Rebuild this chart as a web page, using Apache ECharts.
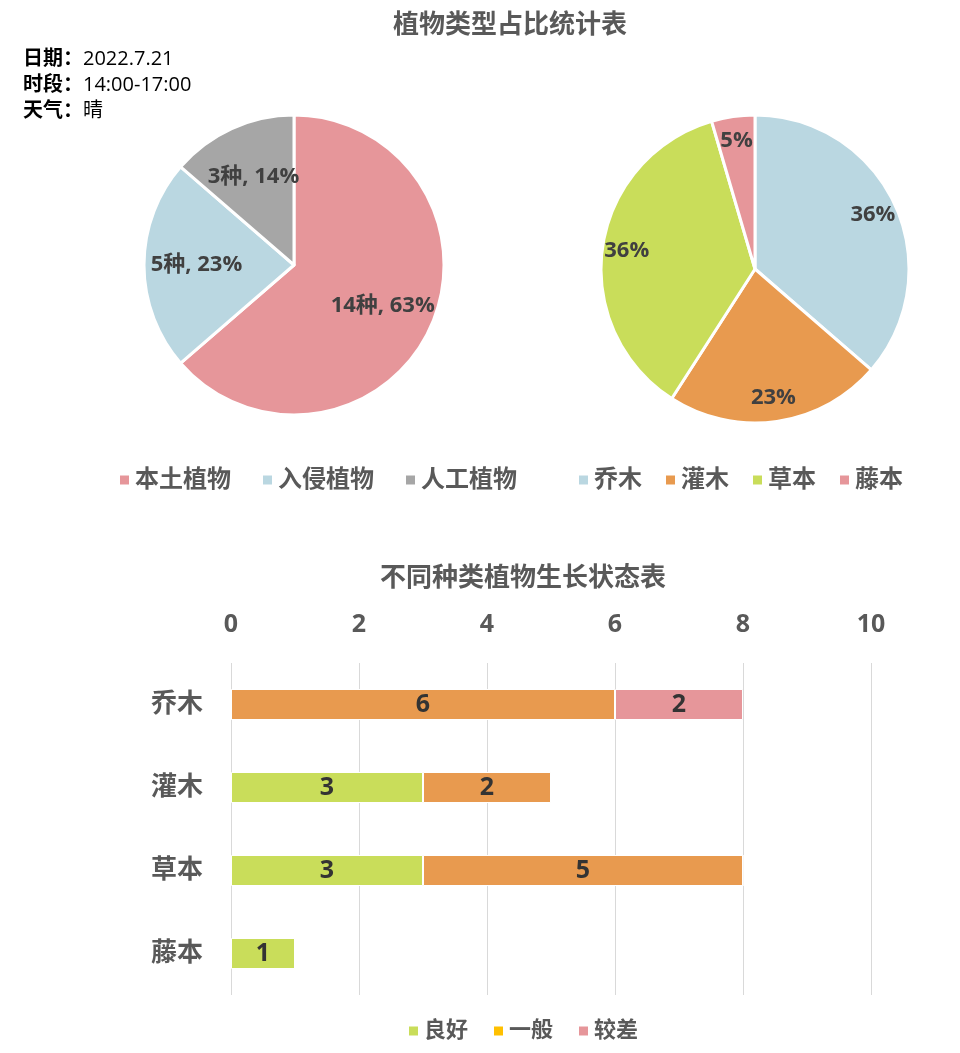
<!DOCTYPE html>
<html>
<head>
<meta charset="utf-8">
<script src="https://cdn.jsdelivr.net/npm/echarts@6/dist/echarts.min.js"></script>
<style>
  html, body { margin: 0; padding: 0; background: #fff; }
  #main { width: 960px; height: 1053px; }
</style>
</head>
<body>
<div id="main"></div>
<script>
// 植物类型（种数）
var typeNames = ['本土植物', '入侵植物', '人工植物'];
var typeCounts = [14, 5, 3];
var typePct = [63, 23, 14];

// 植物形态
var formNames = ['乔木', '灌木', '草本', '藤本'];
var formCounts = [8, 5, 8, 1];
var formPct = [36, 23, 36, 5];

// 生长状态
var statusNames = ['良好', '一般', '较差'];
var goodVals = [0, 3, 3, 1];
var normalVals = [6, 2, 5, 0];
var badVals = [2, 0, 0, 0];
var xTicks = [0, 2, 4, 6, 8, 10];

var FONT = "'Open Sans','Noto Sans CJK SC',sans-serif";
var PINK = '#E6969A', BLUE = '#BAD7E1', GRAY = '#A6A6A6',
    ORANGE = '#E89A4F', GREEN = '#C9DD5A', YELLOW = '#FFC000';

var chart = echarts.init(document.getElementById('main'));

// 把饼图内部标签往外推一点
function pushOut(cx, cy, k){
    return function(p){
        var r = p.labelRect;
        var lx = r.x + r.width / 2, ly = r.y + r.height / 2;
        return { dx: (lx - cx) * (k - 1), dy: (ly - cy) * (k - 1) };
    };
}

var pieLabel = {
    show: true, position: 'inside', color: '#404040',
    fontSize: 22, fontWeight: 'bold', fontFamily: FONT
};

chart.setOption({
    backgroundColor: '#fff',
    textStyle: { fontFamily: FONT },
    title: [{
        text: '植物类型占比统计表', left: 388, top: 8,
        textStyle: { fontSize: 26, fontWeight: 'bold', color: '#595959', fontFamily: FONT }
    }, {
        text: '不同种类植物生长状态表', left: 375, top: 561,
        textStyle: { fontSize: 26, fontWeight: 'bold', color: '#595959', fontFamily: FONT }
    }],
    graphic: [{
        type: 'text', left: 23, top: 49,
        style: {
            text: '{b|日期：}{n|2022.7.21}\n{b|时段：}{n|14:00-17:00}\n{b|天气：}{n|晴}',
            rich: {
                b: { fontSize: 20, fontWeight: 'bold', color: '#404040', fontFamily: FONT, lineHeight: 26 },
                n: { fontSize: 20, color: '#404040', fontFamily: FONT, lineHeight: 26 }
            }
        }
    }],
    legend: [{
        data: typeNames, left: 113, top: 463,
        itemWidth: 11, itemHeight: 11, itemGap: 30, icon: 'rect',
        textStyle: { fontSize: 24, fontWeight: 'bold', color: '#595959', fontFamily: FONT }
    }, {
        data: formNames, left: 572, top: 463,
        itemWidth: 11, itemHeight: 11, itemGap: 22, icon: 'rect',
        textStyle: { fontSize: 24, fontWeight: 'bold', color: '#595959', fontFamily: FONT }
    }, {
        data: [
            { name: statusNames[0] },
            { name: statusNames[1], itemStyle: { color: YELLOW } },
            { name: statusNames[2] }
        ],
        left: 402, top: 1015,
        itemWidth: 11, itemHeight: 11, itemGap: 24, icon: 'rect',
        textStyle: { fontSize: 22, fontWeight: 'bold', color: '#595959', fontFamily: FONT }
    }],
    grid: { left: 231, width: 640, top: 663, height: 332 },
    xAxis: {
        type: 'value', position: 'top', min: 0, max: 10, interval: 2,
        axisLine: { show: false }, axisTick: { show: false },
        axisLabel: {
            margin: 26, fontSize: 25, fontWeight: 'bold', color: '#595959', fontFamily: FONT,
            formatter: function(v){ return xTicks.indexOf(v) >= 0 ? String(v) : ''; }
        },
        splitLine: { lineStyle: { color: '#D9D9D9', width: 1 } }
    },
    yAxis: {
        type: 'category', data: formNames, inverse: true,
        axisLine: { show: false }, axisTick: { show: false },
        axisLabel: { margin: 28, fontSize: 26, fontWeight: 'bold', color: '#595959', fontFamily: FONT }
    },
    series: [{
        type: 'pie', name: '植物类型',
        center: [294, 265], radius: 150,
        data: typeNames.map(function(n, i){ return { name: n, value: typeCounts[i] }; }),
        color: [PINK, BLUE, GRAY],
        itemStyle: { borderColor: '#fff', borderWidth: 3 },
        label: Object.assign({}, pieLabel, {
            formatter: function(p){ return typeCounts[p.dataIndex] + '种, ' + typePct[p.dataIndex] + '%'; }
        }),
        labelLayout: pushOut(294, 265, 1.25),
        emphasis: { disabled: true }, silent: true
    }, {
        type: 'pie', name: '植物形态',
        center: [755, 269], radius: 154,
        data: formNames.map(function(n, i){ return { name: n, value: formCounts[i] }; }),
        color: [BLUE, ORANGE, GREEN, PINK],
        itemStyle: { borderColor: '#fff', borderWidth: 3 },
        label: Object.assign({}, pieLabel, {
            formatter: function(p){ return formPct[p.dataIndex] + '%'; }
        }),
        labelLayout: pushOut(755, 269, 1.62),
        emphasis: { disabled: true }, silent: true
    }].concat([goodVals, normalVals, badVals].map(function(vals, i){
        return {
            type: 'bar', name: statusNames[i], stack: 'total',
            data: vals, barWidth: 31,
            itemStyle: { color: [GREEN, ORANGE, PINK][i], borderColor: '#fff', borderWidth: 1 },
            label: {
                show: true, position: 'inside', color: '#333',
                fontSize: 25, fontWeight: 'bold', fontFamily: FONT,
                formatter: function(p){ return p.value ? String(p.value) : ''; }
            },
            emphasis: { disabled: true }, silent: true
        };
    }))
});
</script>
</body>
</html>
